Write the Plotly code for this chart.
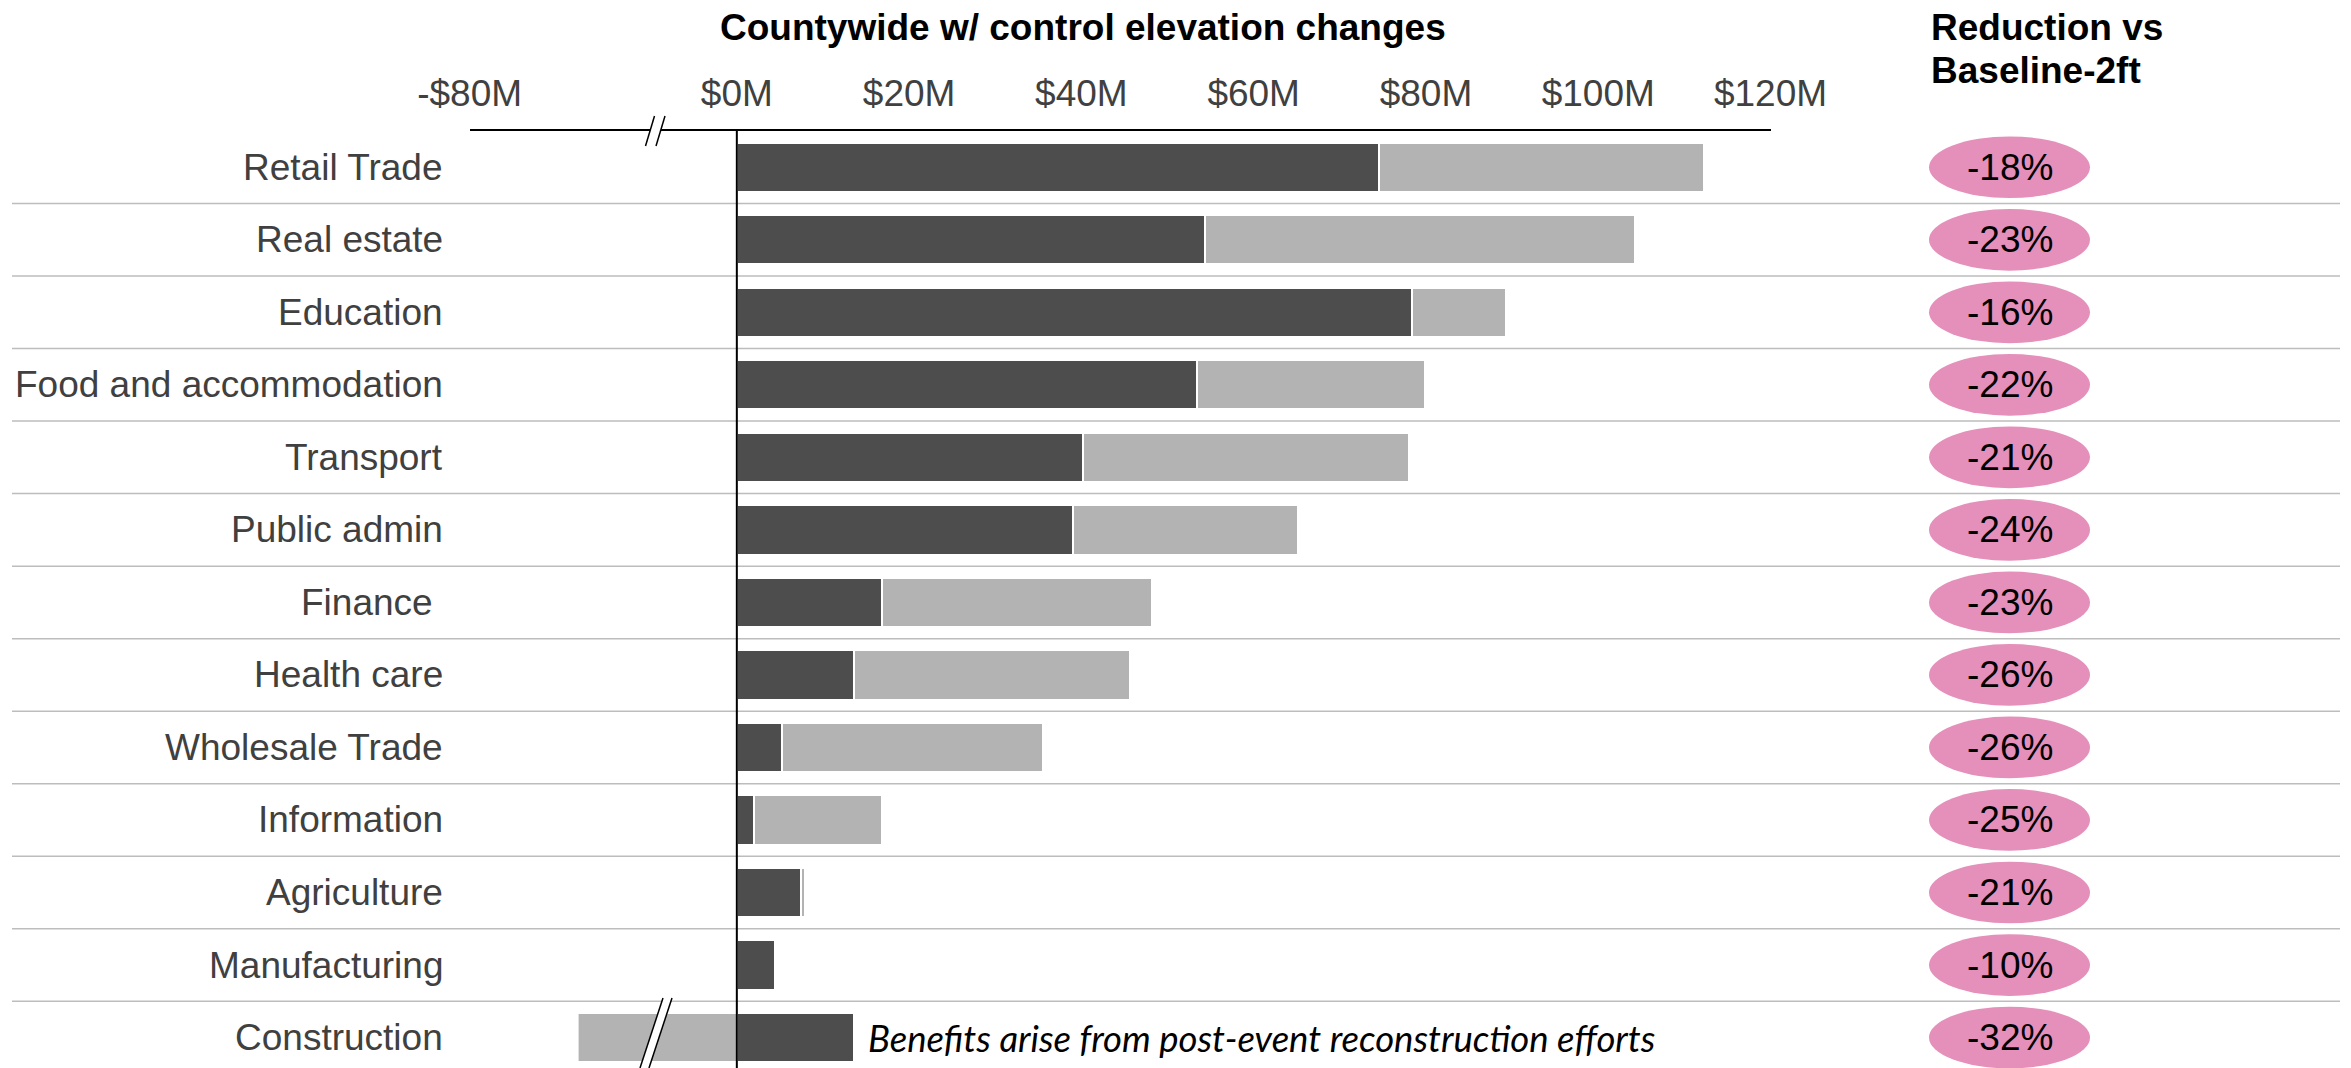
import plotly.graph_objects as go

W, H = 2351, 1068

# Industry rows, top to bottom
sectors = [
    "Retail Trade", "Real estate", "Education", "Food and accommodation",
    "Transport", "Public admin", "Finance\u00a0", "Health care",
    "Wholesale Trade", "Information", "Agriculture", "Manufacturing",
    "Construction",
]
# Benefit with control elevation changes ($M)
with_control = [74.5, 54.4, 78.4, 53.4, 40.2, 39.0, 16.8, 13.6, 5.3, 2.0, 7.5, 4.4, 13.6]
# Additional segment stacked beyond it ($M); Construction is negative
additional = [37.8, 49.9, 10.9, 26.5, 37.8, 26.1, 31.4, 32.1, 30.3, 14.9, 0.4, 0.0, -67.5]
# Reduction vs Baseline-2ft
reduction = ["-18%", "-23%", "-16%", "-22%", "-21%", "-24%", "-23%", "-26%",
             "-26%", "-25%", "-21%", "-10%", "-32%"]

# Axis ticks ($M)
left_ticks = [-80]
left_tick_text = ["-$80M"]
right_ticks = [0, 20, 40, 60, 80, 100, 120]
right_tick_text = ["$0M", "$20M", "$40M", "$60M", "$80M", "$100M", "$120M"]

DARK = "#4d4d4d"
LIGHT = "#b3b3b3"
PINK = "#e58fbb"
LABEL = "#404040"
FONT = "Liberation Sans, Arial, sans-serif"
SIZE = 37


def px(x):
    return x / W


def py(y):
    return 1 - y / H


rows = list(range(len(sectors)))
plot_top = py(131)
break_x = px(655)

fig = go.Figure()

# Same stacked bars on both halves of the broken axis
for xa in ("x", "x2"):
    fig.add_trace(go.Bar(
        x=with_control, y=rows, orientation="h", width=0.68,
        marker=dict(color=DARK, line=dict(color="white", width=2)),
        xaxis=xa, yaxis="y", hoverinfo="skip", showlegend=False,
    ))
    fig.add_trace(go.Bar(
        x=additional, y=rows, orientation="h", width=0.68,
        marker=dict(color=LIGHT, line=dict(color="white", width=2)),
        xaxis=xa, yaxis="y", hoverinfo="skip", showlegend=False,
    ))

shapes = []
# Row separators
for i in rows[:-1]:
    shapes.append(dict(type="line", xref="paper", yref="y",
                       x0=px(12), x1=px(2340), y0=i + 0.5, y1=i + 0.5,
                       line=dict(color="#bdbdbd", width=1.5), layer="below"))

# Zero reference line
shapes.append(dict(type="line", xref="x2", yref="paper", x0=0, x1=0,
                   y0=0, y1=plot_top, line=dict(color="black", width=2),
                   layer="above"))


def break_mark(top, bottom, xt1, xb1, xt2, xb2):
    out = []
    path = (f"M {px(xt1)} {py(top)} L {px(xt2)} {py(top)} "
            f"L {px(xb2)} {py(bottom)} L {px(xb1)} {py(bottom)} Z")
    out.append(dict(type="path", xref="paper", yref="paper", path=path,
                    fillcolor="white", line=dict(width=0), layer="above"))
    for a, b in ((xt1, xb1), (xt2, xb2)):
        out.append(dict(type="line", xref="paper", yref="paper",
                        x0=px(a), x1=px(b), y0=py(top), y1=py(bottom),
                        line=dict(color="black", width=1.5), layer="above"))
    return out


# Axis break on the top axis and through the Construction bar
shapes += break_mark(116, 146, 654.5, 645.5, 665, 656)
shapes += break_mark(998, 1068, 663, 640, 672, 649)

# Reduction badges
for i in rows:
    shapes.append(dict(type="circle", xref="paper", yref="y",
                       x0=px(1929), x1=px(2090), y0=i - 0.4255, y1=i + 0.4255,
                       fillcolor=PINK, line=dict(width=0), layer="above"))

annotations = []
for i, name in enumerate(sectors):
    annotations.append(dict(x=px(445), y=i, xref="paper", yref="y", text=name,
                            xanchor="right", yanchor="middle", showarrow=False,
                            font=dict(family=FONT, size=SIZE, color=LABEL)))
for i, r in enumerate(reduction):
    annotations.append(dict(x=px(2009.5), y=i, xref="paper", yref="y", text=r,
                            xanchor="center", yanchor="middle", showarrow=False,
                            font=dict(family=FONT, size=SIZE, color="black")))

annotations.append(dict(x=px(1083), y=py(27), xref="paper", yref="paper",
                        text="<b>Countywide w/ control elevation changes</b>",
                        xanchor="center", yanchor="middle", showarrow=False,
                        font=dict(family=FONT, size=SIZE, color="black")))
for text, ypos in (("<b>Reduction vs</b>", 27), ("<b>Baseline-2ft</b>", 70)):
    annotations.append(dict(x=px(1929), y=py(ypos), xref="paper", yref="paper",
                            text=text, xanchor="left", yanchor="middle",
                            showarrow=False,
                            font=dict(family=FONT, size=SIZE, color="black")))
annotations.append(dict(x=px(866), y=len(sectors) - 1, xref="paper", yref="y",
                        text="<i>Benefits arise from post-event reconstruction efforts</i>",
                        xanchor="left", yanchor="middle", showarrow=False,
                        font=dict(family="Lato, sans-serif", size=36.5, color="black")))

axis_common = dict(side="top", showline=True, linecolor="black", linewidth=2,
                   showgrid=False, zeroline=False, ticks="", anchor="y",
                   ticklabelstandoff=8, automargin=False,
                   tickfont=dict(family=FONT, size=SIZE, color=LABEL),
                   fixedrange=True)

fig.update_layout(
    width=W, height=H, autosize=False,
    margin=dict(l=0, r=0, t=0, b=0, pad=0, autoexpand=False),
    paper_bgcolor="white", plot_bgcolor="white",
    barmode="relative", bargap=0,
    showlegend=False, hovermode=False,
    xaxis=dict(domain=[px(469.6), break_x], range=[-80, -58.5],
               tickvals=left_ticks, ticktext=left_tick_text, **axis_common),
    xaxis2=dict(domain=[break_x, px(1770.5)], range=[-9.5, 120],
                tickvals=right_ticks, ticktext=right_tick_text, **axis_common),
    yaxis=dict(domain=[0, plot_top], range=[12.42, -0.5], visible=False,
               automargin=False, fixedrange=True),
    shapes=shapes,
    annotations=annotations,
)

fig.write_html("out.html")
